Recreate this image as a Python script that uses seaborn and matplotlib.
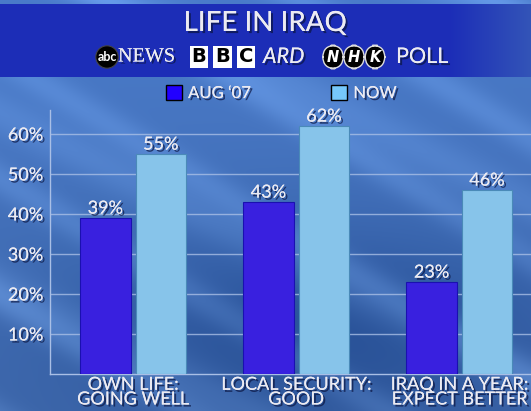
import numpy as np
import pandas as pd
import matplotlib
matplotlib.use("Agg")
import matplotlib.pyplot as plt
import matplotlib.patheffects as pe
from matplotlib.patches import Patch
import seaborn as sns

# ---- data ----
categories = ["OWN LIFE:\nGOING WELL", "LOCAL SECURITY:\nGOOD", "IRAQ IN A YEAR:\nEXPECT BETTER"]
series = ["AUG \u201807", "NOW"]
aug07 = [39, 43, 23]
now = [55, 62, 46]
yticks = [10, 20, 30, 40, 50, 60]

df = pd.DataFrame({
    "category": categories * 2,
    "period": [series[0]] * 3 + [series[1]] * 3,
    "value": aug07 + now,
})

sns.set_theme(style="white")
plt.rcParams["font.family"] = ["Lato", "DejaVu Sans"]

W, H = 531, 411
fig = plt.figure(figsize=(W / 100, H / 100), dpi=100)

# ---- background gradient ----
bg = fig.add_axes([0, 0, 1, 1], zorder=-10)
yy, xx = np.mgrid[0:H, 0:W]
streak = 0.07 * np.sin((xx * 0.6 - yy) / 38.0) ** 8 + 0.06 * np.sin((xx * 0.5 - yy + 200) / 55.0) ** 10
dark = np.exp(-(((xx - 330) / 260.0) ** 2 + ((yy - 330) / 110.0) ** 2)) * 0.10
base = np.array([0.27, 0.45, 0.74])
img = np.clip(base[None, None, :] * (0.92 + 0.15 * (1 - yy / H))[..., None]
              + (streak - dark)[..., None] * np.array([0.9, 1.0, 1.0]), 0, 1)
bg.imshow(img, extent=[0, W, H, 0], aspect="auto")
bg.set_xlim(0, W)
bg.set_ylim(H, 0)
bg.axis("off")

# title band
band = np.zeros((1, W, 3))
fx = np.linspace(0, 1, W)
fade = np.clip((fx - 0.85) / 0.15, 0, 1)
band[0] = (1 - fade)[:, None] * np.array([0.11, 0.18, 0.72]) + fade[:, None] * np.array([0.20, 0.33, 0.72])
bg.imshow(band, extent=[0, W, 77, 4], aspect="auto", zorder=2)

shadow = [pe.withSimplePatchShadow(offset=(1.5, -1.5), shadow_rgbFace="#0a1440", alpha=0.7), pe.Normal()]
txtcol = "#ecebf2"

fig.text(265 / W, 1 - 23 / H, "LIFE IN IRAQ", ha="center", va="center", fontsize=20,
         color=txtcol, path_effects=shadow)

# logo line
yl = 1 - 57 / H
fig.text(107 / W, yl, "abc", ha="center", va="center", fontsize=9, color="white", fontweight="bold",
         bbox=dict(boxstyle="circle,pad=0.12", fc="black", ec="#444444", lw=0.8))
fig.text(118 / W, yl, "NEWS", ha="left", va="center", fontsize=14.5, color=txtcol,
         family=["Liberation Serif"], path_effects=shadow)
for i, ch in enumerate("BBC"):
    fig.text((199 + i * 23.5) / W, yl, ch, ha="center", va="center", fontsize=14, color="black",
             fontweight="bold", family=["DejaVu Sans"],
             bbox=dict(boxstyle="square,pad=0.1", fc="white", ec="none"))
fig.text(263 / W, yl, "ARD", ha="left", va="center", fontsize=15.5, color=txtcol, style="italic",
         path_effects=shadow)
for i, ch in enumerate("NHK"):
    fig.text((333 + i * 21) / W, yl, ch, ha="center", va="center", fontsize=10.5, color="white",
             fontweight="bold", style="italic", family=["DejaVu Sans"],
             bbox=dict(boxstyle="round,pad=0.28,rounding_size=0.85", fc="black", ec="#dddddd", lw=1))
fig.text(396 / W, yl, "POLL", ha="left", va="center", fontsize=15.5, color=txtcol, path_effects=shadow)

# ---- chart ----
ax = fig.add_axes([50 / W, 37 / H, (W - 50) / W, 264 / H])
ax.set_facecolor("none")
dark_c, light_c = "#2200ff", "#76c8fb"
sns.barplot(data=df, x="category", y="value", hue="period", palette=[dark_c, light_c],
            width=0.68, gap=0.09, linewidth=0.8, legend=False, ax=ax, zorder=3)
for patch, ec in zip(ax.patches, ["#1a10b0"] * 3 + ["#4a8ab8"] * 3):
    patch.set_edgecolor(ec)

for cont in ax.containers:
    labels = ax.bar_label(cont, fmt="%d%%", padding=1, fontsize=13, color=txtcol)
    for lb in labels:
        lb.set_path_effects(shadow)

ax.set_xlim(-0.509, 2.44)
ax.set_ylim(0, 66)
ax.set_yticks(yticks)
ax.set_yticklabels([f"{v}%" for v in yticks])
ax.yaxis.grid(True, color="#a9bfe6", linewidth=1, alpha=0.8, zorder=0)
ax.set_axisbelow(True)
ax.set_xlabel("")
ax.set_ylabel("")
for s in ["top", "right"]:
    ax.spines[s].set_visible(False)
for s in ["left", "bottom"]:
    ax.spines[s].set_color("#a9bfe6")
    ax.spines[s].set_linewidth(1)
ax.tick_params(axis="both", length=0, labelsize=13, colors=txtcol)
ax.tick_params(axis="y", pad=5)
ax.tick_params(axis="x", pad=2)
for lb in ax.get_xticklabels():
    lb.set_linespacing(0.9)
    lb.set_path_effects(shadow)
for lb in ax.get_yticklabels():
    lb.set_path_effects(shadow)

# ---- legend ----
handles = [Patch(facecolor=dark_c, edgecolor="black", linewidth=1),
           Patch(facecolor=light_c, edgecolor="black", linewidth=1)]
leg = fig.legend(handles, series, loc="center", bbox_to_anchor=(281 / W, 1 - 93 / H), ncol=2,
                 frameon=False, fontsize=12, handlelength=1.0, handleheight=1.0,
                 handletextpad=0.35, columnspacing=4.8)
for t_ in leg.get_texts():
    t_.set_color(txtcol)
    t_.set_path_effects(shadow)

fig.savefig("out.png", dpi=100)
